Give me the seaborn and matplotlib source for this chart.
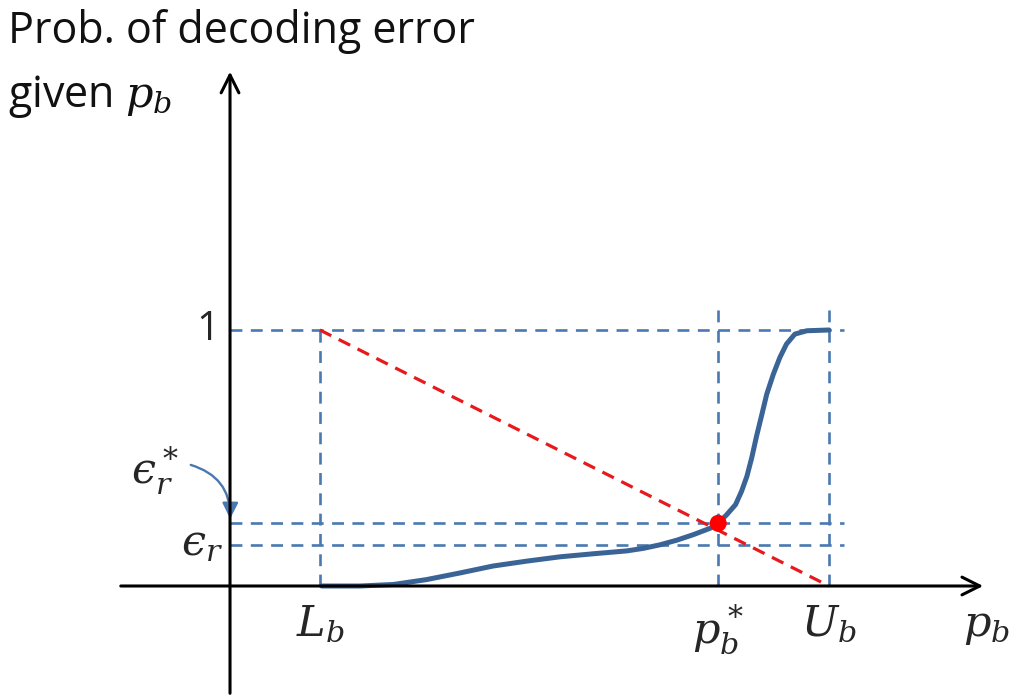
import numpy as np
import matplotlib
matplotlib.use("Agg")
import matplotlib.pyplot as plt
import seaborn as sns
from matplotlib.patches import FancyArrowPatch

sns.set_theme(style="white")
plt.rcParams["font.family"] = ["Open Sans", "DejaVu Sans"]
plt.rcParams["mathtext.fontset"] = "dejavuserif"

# key positions on the p_b axis and error-probability axis
L_b, p_star, U_b = 0.15, 0.815, 1.0
eps_r, eps_star = 0.162, 0.245

# decoding error curve
curve_x = [0.153, 0.217, 0.273, 0.328, 0.384, 0.439, 0.495, 0.551, 0.607, 0.662,
           0.690, 0.718, 0.746, 0.774, 0.802, 0.815, 0.829, 0.844, 0.854, 0.863,
           0.871, 0.879, 0.888, 0.896, 0.907, 0.918, 0.929, 0.943, 0.963, 1.000]
curve_y = [0.000, 0.000, 0.006, 0.025, 0.051, 0.078, 0.097, 0.114, 0.126, 0.137,
           0.147, 0.161, 0.179, 0.201, 0.226, 0.245, 0.278, 0.318, 0.370, 0.429,
           0.501, 0.585, 0.671, 0.749, 0.827, 0.893, 0.945, 0.984, 0.997, 1.000]

# straight line from (L_b, 1) down to (U_b, 0)
red_x = [L_b, U_b]
red_y = [1.0, 0.0]

guide_blue = "#4a78b0"
curve_blue = "#3b6496"

fig = plt.figure(figsize=(10.15, 6.98), dpi=100)
ax = fig.add_axes([0, 0, 1, 1])
ax.set_xlim(-0.384, 1.3105)
ax.set_ylim(-0.4375, 2.289)
ax.axis("off")

dash = dict(color=guide_blue, lw=1.9, ls=(0, (4.5, 3.2)))
# horizontal guides
for yv in [1.0, eps_star, eps_r]:
    ax.plot([0, 1.025], [yv, yv], **dash)
# vertical guides
ax.plot([L_b, L_b], [0, 1.0], **dash)
ax.plot([p_star, p_star], [0, 1.105], **dash)
ax.plot([U_b, U_b], [0, 1.105], **dash)

# axes with arrowheads
ax.annotate("", xy=(1.262, 0), xytext=(-0.187, 0),
            arrowprops=dict(arrowstyle="->", lw=2.2, color="black", mutation_scale=32))
ax.annotate("", xy=(0, 2.02), xytext=(0, -0.43),
            arrowprops=dict(arrowstyle="->", lw=2.2, color="black", mutation_scale=32))

ax.plot(red_x, red_y, color="#e8191c", lw=2.3, ls=(0, (4, 2.6)))
sns.lineplot(x=curve_x, y=curve_y, ax=ax, color=curve_blue, lw=3.6, sort=False,
             estimator=None)
sns.scatterplot(x=[p_star], y=[eps_star], ax=ax, color="#ff0000", s=150,
                edgecolor="none", zorder=5)

# curved pointer from the eps_r^* label to the axis
arr = FancyArrowPatch((-0.07, 0.476), (0.0, 0.252), connectionstyle="arc3,rad=-0.4",
                      arrowstyle="-|>", mutation_scale=24, color=guide_blue, lw=1.7)
ax.add_patch(arr)

ax.text(0.008, 0.955, "Prob. of decoding error", transform=fig.transFigure,
        fontsize=31, ha="left", va="center", color="#111111")
ax.text(0.008, 0.862, r"given $p_b$", transform=fig.transFigure,
        fontsize=31, ha="left", va="center", color="#111111")

ax.text(-0.037, 1.0, "1", fontsize=29, ha="center", va="center")
ax.text(-0.125, 0.45, "$\u03f5_r^*$", fontsize=31, ha="center", va="center")
ax.text(-0.047, 0.165, "$\u03f5_r$", fontsize=31, ha="center", va="center")
ax.text(L_b, -0.15, r"$L_b$", fontsize=31, ha="center", va="center")
ax.text(p_star, -0.17, r"$p_b^*$", fontsize=31, ha="center", va="center")
ax.text(U_b, -0.15, r"$U_b$", fontsize=31, ha="center", va="center")
ax.text(1.262, -0.15, r"$p_b$", fontsize=31, ha="center", va="center")

fig.savefig("out.png", dpi=100)
